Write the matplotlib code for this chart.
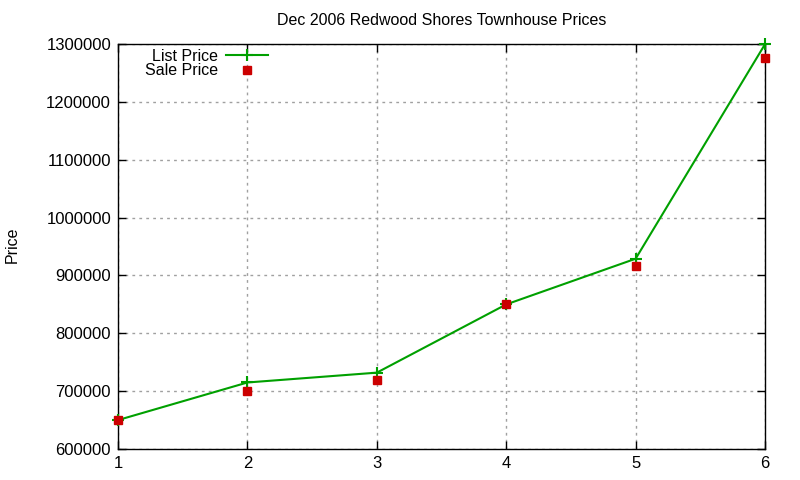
import matplotlib
matplotlib.use('Agg')
import matplotlib.pyplot as plt

plt.rcParams['font.family'] = ['Liberation Sans', 'DejaVu Sans']

x = [1, 2, 3, 4, 5, 6]
list_price = [650000, 715000, 732000, 850000, 929000, 1300000]
sale_price = [650000, 700000, 720000, 850000, 916000, 1276000]
y_ticks = [600000, 700000, 800000, 900000, 1000000, 1100000, 1200000, 1300000]

fig = plt.figure(figsize=(8, 4.8), dpi=100)
ax = fig.add_axes([0.1475, 0.0646, 0.8088, 0.8434])

ax.plot(x, list_price, color='#00a000', lw=1.5, marker='+', ms=9, mew=1.5,
        label='List Price', zorder=3, clip_on=False)
ax.plot(x, sale_price, ls='none', color='#cc0000', marker='s', ms=6,
        label='Sale Price', zorder=4, clip_on=False)

ax.set_xlim(1, 6)
ax.set_ylim(600000, 1300000)
ax.set_xticks(x)
ax.set_yticks(y_ticks)
ax.set_yticklabels([str(v) for v in y_ticks])
ax.tick_params(direction='in', top=True, right=True, length=6, width=1,
               labelsize=12, pad=5)
ax.grid(True, color='#a0a0a0', ls=(0, (2, 3)), lw=1)
for s in ax.spines.values():
    s.set_linewidth(1)

ax.set_title('Dec 2006 Redwood Shores Townhouse Prices', fontsize=11.5, pad=14)
fig.text(12 / 800, 1 - 245 / 480, 'Price', rotation=90, fontsize=11.5,
         ha='center', va='center')

leg = ax.legend(loc='upper right', frameon=False, markerfirst=False,
                fontsize=11.5, handlelength=2.6, handletextpad=0.5,
                borderpad=0, borderaxespad=0, labelspacing=-0.05,
                bbox_to_anchor=(268 / 800, 1 - 49 / 480),
                bbox_transform=fig.transFigure)
for t in leg.get_texts():
    t.set_ha('right')

fig.savefig('out.png', dpi=100)
